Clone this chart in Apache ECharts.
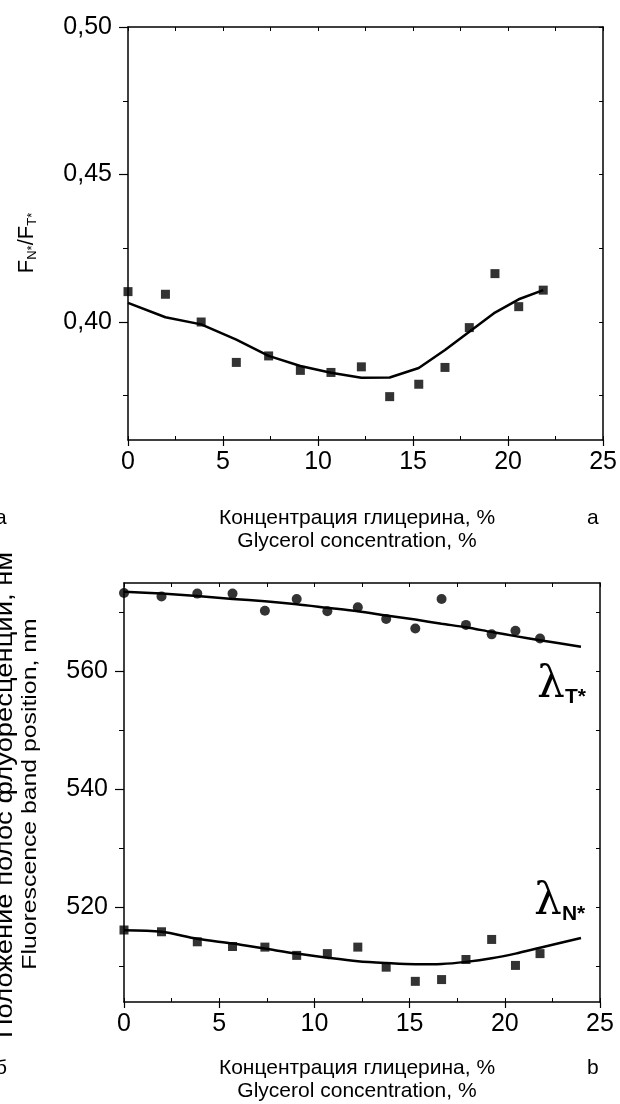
<!DOCTYPE html>
<html>
<head>
<meta charset="utf-8">
<script src="https://cdn.jsdelivr.net/npm/echarts@6/dist/echarts.min.js"></script>
<style>
  html, body { margin: 0; padding: 0; background: #fff; }
  #chart { width: 620px; height: 1104px; }
</style>
</head>
<body>
<div id="chart"></div>
<script>
// Glycerol concentration, % (shared by both panels)
const conc = [0, 1.97, 3.85, 5.7, 7.4, 9.07, 10.68, 12.28, 13.77, 15.3, 16.68, 17.96, 19.31, 20.56, 21.85];

// Panel a: F_N*/F_T* ratio, measured points and the fitted curve
const ratioPoints = [0.4103, 0.4094, 0.4000, 0.3863, 0.3885, 0.3836, 0.3829, 0.3848, 0.3747, 0.3789, 0.3846, 0.3981, 0.4164, 0.4052, 0.4108];
const ratioFit = [0.4065, 0.4016, 0.3992, 0.3940, 0.3885, 0.3851, 0.3828, 0.3811, 0.3812, 0.3844, 0.3905, 0.3967, 0.4032, 0.4077, 0.4108];

// Panel b: fluorescence band positions, nm
const lambdaT = [573.3, 572.7, 573.2, 573.2, 570.3, 572.3, 570.2, 570.9, 568.9, 567.3, 572.3, 567.9, 566.3, 566.9, 565.6];
const lambdaN = [516.2, 515.9, 514.2, 513.4, 513.3, 511.9, 512.2, 513.3, 509.9, 507.5, 507.8, 511.2, 514.6, 510.2, 512.2];
const fitConcB = [0, 1.97, 3.85, 5.7, 7.4, 9.07, 10.68, 12.28, 13.77, 15.3, 16.68, 17.96, 19.31, 20.56, 21.85, 24.0];
const lambdaTFit = [573.5, 573.2, 572.8, 572.3, 571.9, 571.4, 570.8, 570.2, 569.5, 568.8, 568.1, 567.5, 566.7, 566.0, 565.3, 564.2];
const lambdaNFit = [516.15, 515.9, 514.7, 513.9, 513.05, 512.2, 511.5, 510.9, 510.6, 510.4, 510.45, 510.8, 511.4, 512.2, 513.2, 514.85];

// Tick labels
const xTicks = [0, 5, 10, 15, 20, 25];
const ratioTicks = [0.40, 0.45, 0.50];
const ratioMinor = [0.375, 0.425, 0.475];
const lambdaTicks = [520, 540, 560];
const lambdaMinor = [510, 530, 550, 570];

const FONT = '"Liberation Sans", Arial, sans-serif';
const SERIF = '"DejaVu Serif", "Liberation Serif", serif';
const INK = '#000';
const TICK_FONT = 25;
const TITLE_FONT = 21;

const pair = (xs, ys) => xs.map((x, i) => [x, ys[i]]);

function xAxes(grid) {
  return [
    { // bottom, major ticks outward with labels
      gridIndex: grid, type: 'value', position: 'bottom', min: 0, max: 25, interval: 5,
      axisLine: { onZero: false, lineStyle: { color: INK, width: 1.5 } },
      axisTick: { length: 6, lineStyle: { color: INK, width: 1.2 } },
      axisLabel: { color: INK, fontFamily: FONT, fontSize: TICK_FONT, margin: 10,
        customValues: xTicks },
      splitLine: { show: false }
    },
    { // bottom, minor ticks inward
      gridIndex: grid, type: 'value', position: 'bottom', min: 0, max: 25, interval: 2.5,
      axisLine: { show: false, onZero: false },
      axisTick: { inside: true, length: 4, lineStyle: { color: INK, width: 1 } },
      axisLabel: { show: false }, splitLine: { show: false }
    },
    { // top frame, inward ticks
      gridIndex: grid, type: 'value', position: 'top', min: 0, max: 25, interval: 2.5,
      axisLine: { onZero: false, lineStyle: { color: INK, width: 1.5 } },
      axisTick: { inside: true, length: 4, lineStyle: { color: INK, width: 1 } },
      axisLabel: { show: false }, splitLine: { show: false }
    }
  ];
}

function yAxes(grid, min, max, major, minor, fmt) {
  return [
    { // left, major ticks outward with labels
      gridIndex: grid, type: 'value', position: 'left', min: min, max: max,
      axisLine: { onZero: false, lineStyle: { color: INK, width: 1.5 } },
      axisTick: { length: 9, customValues: major, lineStyle: { color: INK, width: 1.2 } },
      axisLabel: { color: INK, fontFamily: FONT, fontSize: TICK_FONT, margin: 16,
        customValues: major, formatter: fmt },
      splitLine: { show: false }
    },
    { // left, minor ticks outward
      gridIndex: grid, type: 'value', position: 'left', min: min, max: max,
      axisLine: { show: false, onZero: false },
      axisTick: { length: 5, customValues: minor, lineStyle: { color: INK, width: 1 } },
      axisLabel: { show: false }, splitLine: { show: false }
    },
    { // right frame, inward ticks
      gridIndex: grid, type: 'value', position: 'right', min: min, max: max,
      axisLine: { onZero: false, lineStyle: { color: INK, width: 1.5 } },
      axisTick: { inside: true, length: 4, customValues: major.concat(minor), lineStyle: { color: INK, width: 1 } },
      axisLabel: { show: false }, splitLine: { show: false }
    }
  ];
}

const chart = echarts.init(document.getElementById('chart'), null, { renderer: 'canvas' });

const textStyle = (size, extra) => Object.assign({ fill: INK, font: size + 'px ' + FONT }, extra || {});

const lambdaLabel = (sub) => ({
  text: '{l|λ}{s|' + sub + '}', align: 'left', verticalAlign: 'middle',
  rich: {
    l: { fontFamily: SERIF, fontSize: 44, fill: INK },
    s: { fontFamily: FONT, fontSize: 21, fontWeight: 'bold', fill: INK, verticalAlign: 'bottom', padding: [20, 0, 0, 0] }
  }
});

chart.setOption({
  animation: false,
  backgroundColor: '#fff',
  grid: [
    { left: 128, right: 15, top: 27, height: 413 },
    { left: 124, right: 20, top: 583, height: 419 }
  ],
  xAxis: xAxes(0).concat(xAxes(1)),
  yAxis: yAxes(0, 0.36, 0.50, ratioTicks, ratioMinor, v => v.toFixed(2).replace('.', ','))
    .concat(yAxes(1, 504, 575, lambdaTicks, lambdaMinor, v => String(Math.round(v)))),
  series: [
    {
      type: 'line', xAxisIndex: 0, yAxisIndex: 0, data: pair(conc, ratioFit),
      showSymbol: false, lineStyle: { color: INK, width: 2.5 }, z: 2
    },
    {
      type: 'scatter', xAxisIndex: 0, yAxisIndex: 0, data: pair(conc, ratioPoints),
      symbol: 'rect', symbolSize: 9, itemStyle: { color: INK }, z: 3
    },
    {
      type: 'line', xAxisIndex: 3, yAxisIndex: 3, data: pair(fitConcB, lambdaTFit),
      smooth: 0.3, showSymbol: false, lineStyle: { color: INK, width: 2.5 }, z: 2
    },
    {
      type: 'scatter', xAxisIndex: 3, yAxisIndex: 3, data: pair(conc, lambdaT),
      symbol: 'circle', symbolSize: 10, itemStyle: { color: INK }, z: 3
    },
    {
      type: 'line', xAxisIndex: 3, yAxisIndex: 3, data: pair(fitConcB, lambdaNFit),
      smooth: 0.3, showSymbol: false, lineStyle: { color: INK, width: 2.5 }, z: 2
    },
    {
      type: 'scatter', xAxisIndex: 3, yAxisIndex: 3, data: pair(conc, lambdaN),
      symbol: 'rect', symbolSize: 9, itemStyle: { color: INK }, z: 3
    }
  ],
  graphic: [
    // panel a: y title F_N*/F_T*
    {
      type: 'text', x: 27, y: 243, rotation: Math.PI / 2,
      style: {
        text: '{m|F}{s|N*}{m|/F}{s|T*}',
        fill: INK, align: 'center', verticalAlign: 'middle',
        rich: {
          m: { fontFamily: FONT, fontSize: 22, fill: INK },
          s: { fontFamily: FONT, fontSize: 13, fill: INK, verticalAlign: 'bottom', padding: [10, 0, 0, 0] }
        }
      }
    },
    // panel a: x titles and letters
    { type: 'text', x: 357, y: 518, style: textStyle(TITLE_FONT, { text: 'Концентрация глицерина, %', align: 'center', verticalAlign: 'middle' }) },
    { type: 'text', x: 357, y: 541, style: textStyle(TITLE_FONT, { text: 'Glycerol concentration, %', align: 'center', verticalAlign: 'middle' }) },
    { type: 'text', x: 587, y: 518, style: textStyle(TITLE_FONT, { text: 'a', align: 'left', verticalAlign: 'middle' }) },
    { type: 'text', x: -5, y: 518, style: textStyle(TITLE_FONT, { text: 'а', align: 'left', verticalAlign: 'middle' }) },
    // panel b: y titles (two lines, stretched along the axis)
    { type: 'text', x: 6, y: 795, rotation: Math.PI / 2, scaleX: 1.19, style: textStyle(23, { text: 'Положение полос флуоресценции, нм', align: 'center', verticalAlign: 'middle' }) },
    { type: 'text', x: 30, y: 794, rotation: Math.PI / 2, scaleX: 1.18, style: textStyle(21, { text: 'Fluorescence band position, nm', align: 'center', verticalAlign: 'middle' }) },
    // panel b: x titles and letters
    { type: 'text', x: 357, y: 1068, style: textStyle(TITLE_FONT, { text: 'Концентрация глицерина, %', align: 'center', verticalAlign: 'middle' }) },
    { type: 'text', x: 357, y: 1091, style: textStyle(TITLE_FONT, { text: 'Glycerol concentration, %', align: 'center', verticalAlign: 'middle' }) },
    { type: 'text', x: 587, y: 1068, style: textStyle(TITLE_FONT, { text: 'b', align: 'left', verticalAlign: 'middle' }) },
    { type: 'text', x: -5, y: 1068, style: textStyle(TITLE_FONT, { text: 'б', align: 'left', verticalAlign: 'middle' }) },
    // curve labels
    { type: 'text', x: 537, y: 686, style: lambdaLabel('T*') },
    { type: 'text', x: 534, y: 903, style: lambdaLabel('N*') }
  ]
});
</script>
</body>
</html>
